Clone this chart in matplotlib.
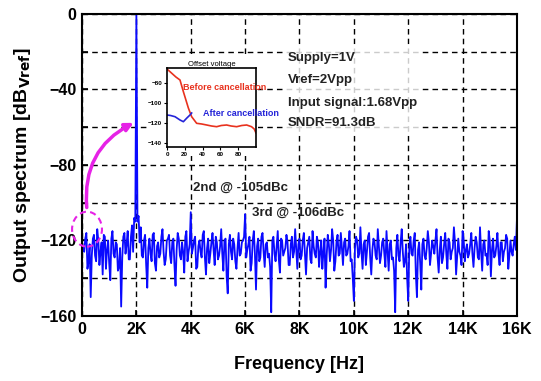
import numpy as np
import matplotlib
matplotlib.use("Agg")
import matplotlib.pyplot as plt
from matplotlib.patches import Rectangle, Ellipse, FancyArrowPatch

plt.rcParams['font.family'] = ['Liberation Sans', 'DejaVu Sans']
plt.rcParams['font.weight'] = 'bold'

# output spectrum (dBVref), bins every 80 Hz from 0 Hz to 16 kHz
bin_hz = 80
level_db = [
    -121, -126, -116, -131, -150, -119, -128, -114, -133, -121, -117, -135, -120, -141, -115, -129, -122, -134, -155, -118,
    -127, -115, -130, -112, -108, 0, -107, -113, -129, -117, -145, -119, -131, -116, -136, -121, -127, -114, -133, -120,
    -117, -132, -119, -144, -116, -128, -121, -137, -115, -126, -105, -124, -118, -134, -120, -129, -115, -138, -119, -127,
    -116, -133, -121, -128, -114, -136, -119, -148, -117, -130, -122, -135, -116, -127, -120, -106, -125, -118, -132, -115,
    -146, -119, -129, -116, -134, -121, -127, -158, -118, -131, -115, -137, -120, -126, -117, -133, -122, -129, -114, -135,
    -119, -128, -116, -138, -121, -130, -115, -127, -118, -134, -120, -126, -145, -117, -131, -114, -136, -121, -128, -116,
    -133, -119, -127, -115, -130, -152, -118, -129, -113, -135, -120, -126, -116, -138, -119, -128, -114, -132, -121, -127,
    -115, -136, -120, -129, -158, -117, -131, -114, -134, -122, -152, -118, -128, -116, -150, -121, -146, -119, -130, -115,
    -133, -120, -127, -114, -137, -118, -129, -116, -135, -121, -126, -113, -138, -119, -128, -115, -131, -122, -127, -116,
    -134, -118, -129, -113, -136, -120, -127, -115, -139, -119, -128, -116, -133, -121, -126, -117, -135, -120, -128, -118,
    -108,
]
# the in-between bins (40 Hz + 80 Hz * k)
level_db_mid = [
    -124, -119, -135, -122, -128, -117, -131, -120, -126, -138, -118, -125, -132, -119, -127, -121, -136, -124, -129, -116,
    -122, -130, -118, -126, -110, -110, -121, -128, -120, -133, -124, -127, -117, -132, -123, -129, -118, -126, -130, -119,
    -128, -121, -133, -125, -119, -130, -126, -118, -131, -122, -127, -120, -135, -123, -126, -117, -129, -124, -132, -121,
    -125, -118, -130, -123, -127, -120, -139, -122, -126, -119, -131, -124, -128, -121, -118, -129, -122, -136, -120, -127,
    -123, -131, -118, -126, -122, -129, -134, -120, -127, -123, -130, -119, -128, -124, -121, -133, -118, -126, -125, -122,
    -130, -120, -127, -124, -118, -132, -123, -129, -121, -126, -135, -119, -128, -122, -125, -120, -131, -117, -127, -124,
    -121, -128, -123, -131, -140, -124, -120, -127, -126, -122, -133, -118, -129, -125, -121, -130, -123, -128, -119, -134,
    -126, -122, -130, -136, -124, -128, -121, -126, -131, -140, -123, -127, -120, -138, -125, -132, -122, -128, -124, -121,
    -127, -123, -120, -129, -125, -132, -122, -127, -119, -130, -124, -121, -128, -126, -133, -120, -125, -129, -122, -127,
    -124, -121, -130, -126, -122, -128, -133, -120, -125, -129, -123, -127, -121, -131, -124, -119, -128, -126, -122, -125,
]
xtick_hz = [0, 2000, 4000, 6000, 8000, 10000, 12000, 14000, 16000]
xtick_labels = ['0', '2K', '4K', '6K', '8K', '10K', '12K', '14K', '16K']
ytick_db = [-160, -120, -80, -40, 0]

# inset: offset voltage
before_x = [0, 5, 10, 14.6, 18.4, 24, 27.7, 33.3, 39, 44.6, 50, 55.8, 61, 67, 72, 78.3, 84, 89.5, 95, 98, 100]
before_y = [-66, -70, -74, -77, -88.7, -105, -113.7, -120.3, -121, -122, -123, -123.7, -122.5, -122, -123,
            -123.7, -122.5, -122, -123.7, -126, -130]
after_x = [0, 4, 9, 14.6, 18.4, 22, 25.8, 27.7]
after_y = [-112, -112.5, -113.7, -117, -118.7, -115.3, -112, -110]

info_lines = ['Supply=1V', 'Vref=2Vpp', 'Input signal:1.68Vpp', 'SNDR=91.3dB']
info_db = [-23.5, -35, -47, -58]

fig = plt.figure(figsize=(5.41, 3.81), dpi=100)
ax = fig.add_axes([0.1516, 0.1706, 0.804, 0.7927])

f_main = np.arange(len(level_db)) * bin_hz
f_mid = np.arange(len(level_db_mid)) * bin_hz + bin_hz / 2
freqs = np.concatenate([f_main, f_mid])
levels = np.concatenate([level_db, level_db_mid])
order = np.argsort(freqs)
ax.plot(freqs[order], levels[order], color='#0a0aff', lw=1.3, zorder=2)

ax.set_xlim(0, 16000)
ax.set_ylim(-160, 0)
ax.set_xticks(xtick_hz)
ax.set_xticklabels(xtick_labels)
ax.set_yticks(ytick_db)
ax.set_yticks([-140, -100, -60, -20], minor=True)
ax.tick_params(axis='both', which='both', direction='in', length=4, width=1.2, labelsize=11.5, pad=4)
ax.grid(True, which='both', color='black', linestyle=(0, (4, 3)), lw=1.0, zorder=1)
ax.set_axisbelow(True)
for s in ax.spines.values():
    s.set_linewidth(1.5)
ax.set_xlabel('Frequency [Hz]', fontsize=13, fontweight='bold', labelpad=14)
ax.set_ylabel('Output spectrum [dB$_{\\mathbf{Vref}}$]', fontsize=14, fontweight='bold', labelpad=5)

# harmonic labels
ax.text(4080, -92, '2nd @ -105dBc', fontsize=9.5, color='#222222', va='center')
ax.text(6250, -105.5, '3rd @ -106dBc', fontsize=9.5, color='#222222', va='center')

# info text with a light white box over the grid
ax.add_patch(Rectangle((284 / 541, 1 - 133 / 381), 138 / 541, 89 / 381, transform=fig.transFigure,
                       facecolor='white', edgecolor='none', alpha=0.8, zorder=4))
for line, y in zip(info_lines, info_db):
    ax.text(7580, y, line, fontsize=9.5, color='#222222', va='center', zorder=6)

# magenta marker around the low-frequency region
ax.add_patch(Ellipse((184, -114), width=1100, height=18.5, fill=False, edgecolor='#e622e6',
                     linestyle=(0, (3, 2)), lw=1.5, clip_on=False, zorder=5))
ax.add_patch(FancyArrowPatch((184, -104), (1990, -57), connectionstyle='arc3,rad=-0.35',
                             arrowstyle='-|>', mutation_scale=12, lw=2.5, color='#e622e6', zorder=5))

# white area behind the inset and its labels
ax.add_patch(Rectangle((147 / 541, 1 - 156 / 381), 111 / 541, 100 / 381, transform=fig.transFigure,
                       facecolor='white', edgecolor='none', zorder=4))

ins = fig.add_axes([167 / 541, 1 - 147 / 381, 89 / 541, 79 / 381])
ins.plot(before_x, before_y, color='#e8321e', lw=1.2)
ins.plot(after_x, after_y, color='#2424d8', lw=1.2)
ins.set_xlim(0, 100)
ins.set_ylim(-144, -65)
ins.set_xticks([0, 20, 40, 60, 80])
ins.set_yticks([-140, -120, -100, -80])
ins.tick_params(labelsize=4.5, length=2, pad=1.5)
for s in ins.spines.values():
    s.set_linewidth(1.2)
ins.set_title('Offset voltage', fontsize=5.5, fontweight='normal', pad=1.5)
ins.text(18, -85, 'Before cancellation', fontsize=6.5, color='#e8321e', va='center', clip_on=False)
ins.text(40, -110, 'After cancellation', fontsize=6.5, color='#2424d8', va='center', clip_on=False)

fig.savefig('out.png', dpi=100)
